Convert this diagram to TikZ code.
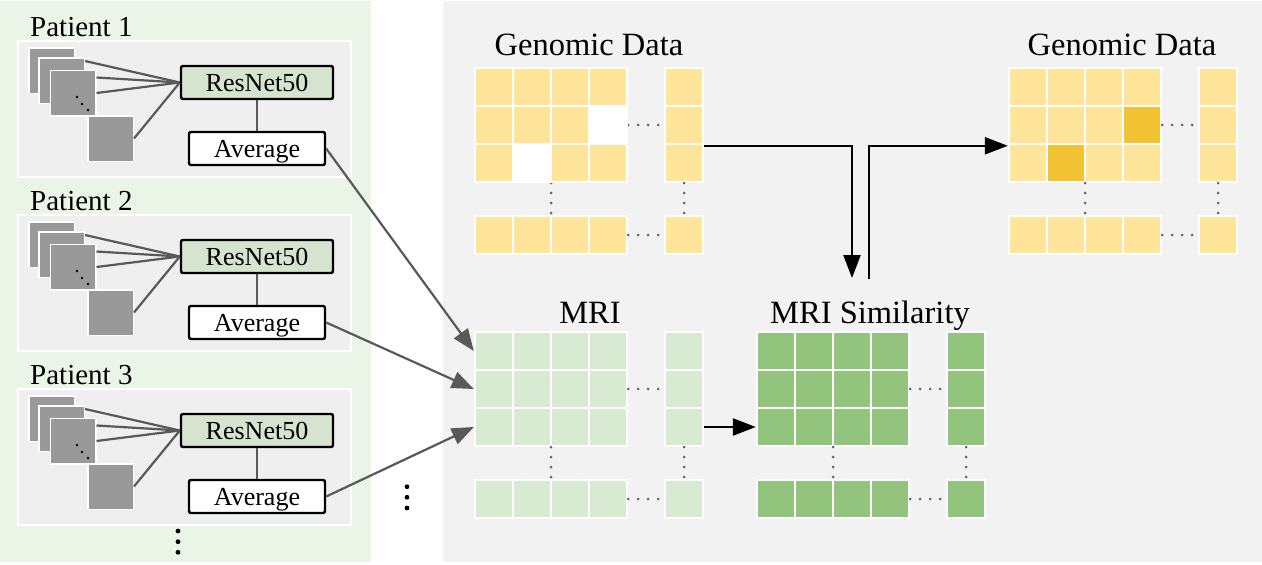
\documentclass[tikz,border=0pt]{standalone}
\usepackage{fontspec}
\setmainfont{Liberation Serif}
\usetikzlibrary{arrows.meta,calc}
\definecolor{leftbg}{HTML}{EBF5E7}
\definecolor{rightbg}{HTML}{F2F2F2}
\definecolor{patbg}{HTML}{EFEFEF}
\definecolor{resfill}{HTML}{D6E4CF}
\definecolor{imgc}{HTML}{999999}
\definecolor{linec}{HTML}{595959}
\definecolor{mric}{HTML}{D9EAD3}
\definecolor{simc}{HTML}{93C47D}
\definecolor{yelc}{HTML}{FFE599}
\definecolor{dyelc}{HTML}{F1C232}
\definecolor{dotc}{HTML}{666666}
\tikzset{
  cell/.style={rectangle, draw=white, line width=2.4pt, minimum size=38pt, inner sep=0pt},
  patbox/.style={rectangle, draw=white, line width=2pt, fill=patbg, minimum width=333pt, minimum height=136pt, inner sep=0pt},
  imgbox/.style={rectangle, draw=white, line width=1.5pt, fill=imgc, minimum size=45.5pt, inner sep=0pt},
  procbox/.style={rectangle, draw=black, line width=2.4pt, rounded corners=2pt, minimum height=33pt, inner sep=0pt, font=\fontsize{26}{30}\selectfont, text height=17pt, text depth=0pt},
  feed/.style={draw=linec, line width=2.2pt},
  grayarrow/.style={draw=linec, line width=2.2pt, -{Triangle[length=22pt,width=17pt]}},
  blackarrow/.style={draw=black, line width=2.4pt, -{Triangle[length=23pt,width=17pt]}},
  titletext/.style={anchor=base, font=\fontsize{32.5}{36}\selectfont, inner sep=0pt},
  patlabel/.style={anchor=base west, font=\fontsize{29}{33}\selectfont, inner sep=0pt},
  griddot/.style={fill=dotc},
}
% #1 prefix, #2 x0, #3 y0, #4 fill colour
\newcommand\mymatrix[4]{%
  \foreach \rr in {0,1,2}{%
    \foreach \cc in {0,1,2,3}{%
      \node[cell,fill=#4] (#1-\rr-\cc) at ({#2+\cc*38+19},{#3+\rr*38+19}) {};
    }
    \node[cell,fill=#4] (#1-\rr-4) at ({#2+209},{#3+\rr*38+19}) {};
  }
  \foreach \cc in {0,1,2,3}{%
    \node[cell,fill=#4] (#1-3-\cc) at ({#2+\cc*38+19},{#3+167}) {};
  }
  \node[cell,fill=#4] (#1-3-4) at ({#2+209},{#3+167}) {};
  \foreach \kk in {0,1,2,3}{%
    \fill[griddot] ({#2+153+10*\kk},{#3+57}) circle (1.5pt);
    \fill[griddot] ({#2+153+10*\kk},{#3+167}) circle (1.5pt);
    \fill[griddot] ({#2+76},{#3+115+10*\kk}) circle (1.5pt);
    \fill[griddot] ({#2+209},{#3+115+10*\kk}) circle (1.5pt);
  }
}
% #1 prefix, #2 top y, #3 number
\newcommand\mypatient[3]{%
  \node[patbox] (#1box) at (184.5,{#2+69}) {};
  \node[patlabel] (#1lab) at (30,{#2-4}) {Patient #3};
  \node[imgbox] (#1s1) at (51.5,{#2+30.5}) {};
  \node[imgbox] (#1s2) at (61.5,{#2+40.5}) {};
  \node[imgbox] (#1s3) at (73,{#2+53}) {};
  \node[imgbox] (#1s4) at (110.5,{#2+98.5}) {};
  \fill[black] (77,{#2+57}) circle (1.4pt) (82,{#2+64}) circle (1.4pt) (88,{#2+70}) circle (1.4pt);
  \node[procbox, fill=resfill, minimum width=152pt] (#1res) at (257,{#2+42.5}) {ResNet50};
  \node[procbox, fill=white, minimum width=136pt] (#1avg) at (257,{#2+108.5}) {Average};
  \draw[feed] ([yshift=-4pt]#1s2.north east) -- (#1res.west);
  \draw[feed] ([yshift=-8pt]#1s3.north east) -- (#1res.west);
  \draw[feed] (#1s3.east) -- (#1res.west);
  \draw[feed] (#1s4.east) -- (#1res.west);
  \draw[feed] (#1res.south) -- (#1avg.north);
}
\begin{document}
\begin{tikzpicture}[x=1pt,y=-1pt]
\useasboundingbox (0,0) rectangle (1262,565);
\fill[leftbg] (0,1) rectangle (371,562);
\fill[rightbg] (443,1) rectangle (1262,562);

\mypatient{pa}{40}{1}
\mypatient{pb}{214}{2}
\mypatient{pc}{388}{3}

\fill[black] (178,531) circle (2.4pt) (178,541.7) circle (2.4pt) (178,552.3) circle (2.4pt);
\fill[black] (407,486.7) circle (2.4pt) (407,497.3) circle (2.4pt) (407,508) circle (2.4pt);

\mymatrix{gl}{475}{68}{yelc}
\mymatrix{gr}{1009}{68}{yelc}
\mymatrix{mri}{475}{332}{mric}
\mymatrix{sim}{757}{332}{simc}

\fill[white] (gl-1-3.north west) rectangle (gl-1-3.south east);
\fill[white] (gl-2-1.north west) rectangle (gl-2-1.south east);
\fill[dyelc] ([shift={(2.2pt,2.2pt)}]gr-1-3.south west) rectangle ([shift={(-2.2pt,-2.2pt)}]gr-1-3.north east);
\fill[dyelc] ([shift={(2.2pt,2.2pt)}]gr-2-1.south west) rectangle ([shift={(-2.2pt,-2.2pt)}]gr-2-1.north east);

\node[titletext] (gltitle) at (589,55) {Genomic Data};
\node[titletext] (grtitle) at (1122,55) {Genomic Data};
\node[titletext] (mrititle) at (590,323) {MRI};
\node[titletext] (simtitle) at (870,323) {MRI Similarity};

\draw[grayarrow] (paavg.east) -- (mri-0-0.west);
\draw[grayarrow] (pbavg.east) -- (mri-1-0.west);
\draw[grayarrow] (pcavg.east) -- (mri-2-0.west);

\draw[blackarrow] (mri-2-4.east) -- (sim-2-0.west);

\coordinate (gdown) at (852,278);
\coordinate (gup) at (869,279);
\draw[blackarrow] ([yshift=-3pt]gl-2-4.north east) -| (gdown);
\draw[blackarrow] (gup) |- ([yshift=-3pt]gr-2-0.north west);
\end{tikzpicture}
\end{document}
